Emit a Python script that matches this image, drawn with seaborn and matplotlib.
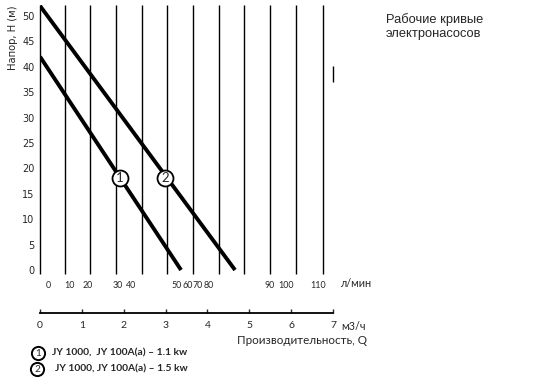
import pandas as pd
import seaborn as sns
import matplotlib.pyplot as plt

"""Data read off the reference"""
# pump curves: flow Q (m3/h) vs head H (m)
curve_ids = ["1", "2"]
q_start = [0, 0]
q_end = [3.37, 4.66]
h_start = [42, 52]
h_end = [0, 0]

# circled markers on the curves
mark_q = [1.91, 2.99]
mark_h = [18.1, 18.1]

# vertical grid lines (in m3/h units)
grid_q = [0, 0.60, 1.20, 1.82, 2.44, 3.04, 3.66, 4.28, 4.88, 5.50, 6.12, 6.75]

# l/min labels and where they sit on the m3/h scale
lpm_labels = ["0", "10", "20", "30", "40", "50", "60", "70", "80", "90", "100", "110"]
lpm_pos = [0.20, 0.70, 1.13, 1.86, 2.17, 3.27, 3.52, 3.76, 4.04, 5.49, 5.88, 6.65]

h_ticks = [0, 5, 10, 15, 20, 25, 30, 35, 40, 45, 50]
m3h_ticks = [0, 1, 2, 3, 4, 5, 6, 7]

legend_text = ["JY 1000,  JY 100A(a) – 1.1 kw", "JY 1000, JY 100A(a) – 1.5 kw"]

df = pd.DataFrame({
    "q": q_start + q_end,
    "h": h_start + h_end,
    "curve": curve_ids + curve_ids,
})

sns.set_style("white")
plt.rcParams["font.family"] = ["Lato", "DejaVu Sans"]

W, H = 540, 383
fig = plt.figure(figsize=(W / 100, H / 100), dpi=100)

# main plot area
ax = fig.add_axes([40 / W, (H - 275.1) / H, 293 / W, 270.3 / H])
ax.set_xlim(0, 7)
ax.set_ylim(-1, 52.2)
for s in ax.spines.values():
    s.set_visible(False)

ax.vlines(grid_q, -0.8, 52.2, color="black", lw=1.0, clip_on=False)
ax.vlines([7.0], 37, 40.1, color="black", lw=1.0, clip_on=False)

sns.lineplot(data=df, x="q", y="h", hue="curve", palette=["black", "black"],
             legend=False, lw=2.8, ax=ax, solid_capstyle="butt")

ax.plot(mark_q, mark_h, "o", ms=11.5, mfc="white", mec="black", mew=1.3, zorder=5)
for q, h, c in zip(mark_q, mark_h, curve_ids):
    ax.text(q, h, c, ha="center", va="center", fontsize=9.5, zorder=6)

ax.set_xlabel("")
ax.set_ylabel("")
ax.set_yticks(h_ticks)
ax.set_yticklabels([str(t) for t in h_ticks], fontsize=7, family="DejaVu Sans")
ax.set_xticks(lpm_pos)
ax.set_xticklabels(lpm_labels, fontsize=6.4)
ax.tick_params(axis="both", length=0)
ax.tick_params(axis="y", pad=4)
ax.tick_params(axis="x", pad=4)
ax.text(7.55, -2.6, "л/мин", fontsize=7.8, ha="center", va="center", clip_on=False)

# m3/h scale below
ax2 = fig.add_axes([40 / W, (H - 313) / H, 293 / W, 0.01])
ax2.set_xlim(0, 7)
ax2.set_yticks([])
for side in ["top", "left", "right"]:
    ax2.spines[side].set_visible(False)
ax2.spines["bottom"].set_linewidth(1.3)
ax2.spines["bottom"].set_color("black")
ax2.set_xticks(m3h_ticks)
ax2.set_xticklabels([str(t) for t in m3h_ticks], fontsize=7.5)
ax2.tick_params(axis="x", direction="in", length=3, width=1.0, pad=6, bottom=True)
ax2.patch.set_visible(False)

fig.text(353 / W, 1 - 326 / H, "м3/ч", fontsize=7.8, ha="center", va="center")
fig.text(367 / W, 1 - 340 / H, "Производительность, Q", fontsize=8.4,
         ha="right", va="center")

# y label
fig.text(13 / W, 1 - 38 / H, "Напор, Н (м)", rotation=90, fontsize=7.2,
         ha="center", va="center", family="DejaVu Sans")

# title
fig.text(386 / W, 1 - 26.5 / H, "Рабочие кривые\nэлектронасосов", fontsize=9.3,
         ha="left", va="center", family="Liberation Sans", linespacing=1.3)

# legend
leg_x = [38, 37]
leg_y = [353, 369]
txt_x = [52, 55]
for cx, cy, tx, c, t in zip(leg_x, leg_y, txt_x, curve_ids, legend_text):
    ax.plot([cx / W], [1 - cy / H], "o", ms=9.5, mfc="white", mec="black",
            mew=1.4, transform=fig.transFigure, clip_on=False)
    fig.text(cx / W, 1 - cy / H, c, fontsize=7.2, ha="center", va="center")
    fig.text(tx / W, 1 - cy / H, t, fontsize=7.4, fontweight="bold",
             ha="left", va="center")

fig.savefig("out.png", dpi=100)
